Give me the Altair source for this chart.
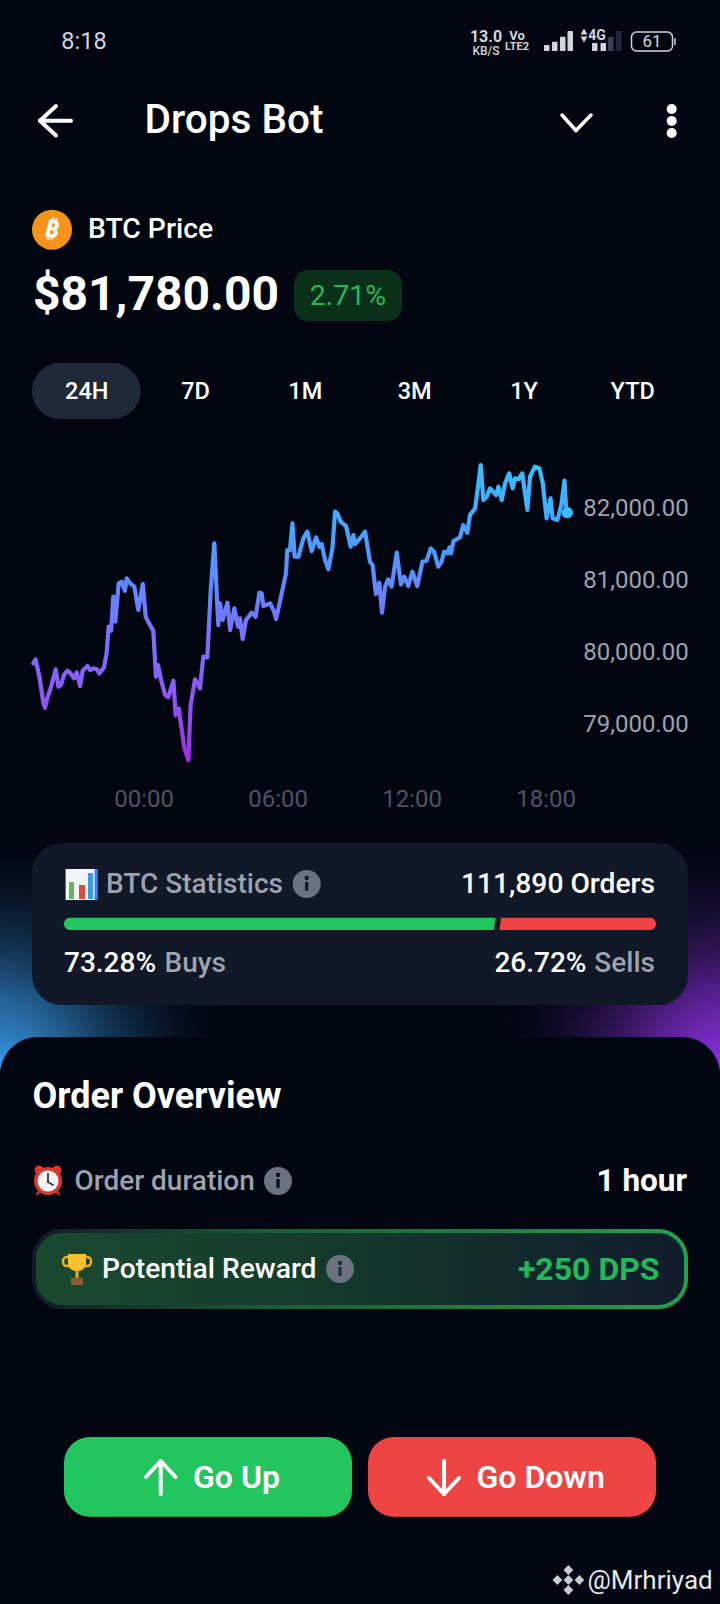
import altair as alt
import pandas as pd

# ---------- chart values ----------
hours = [-4.94,-4.84,-4.67,-4.49,-4.42,-4.30,-4.19,-4.07,-3.94,-3.82,-3.70,-3.57,-3.42,-3.27,-3.12,-3.00,-2.85,-2.73,-2.52,-2.40,-2.25,-2.10,-1.99,-1.78,-1.66,-1.57,-1.46,-1.36,-1.27,-1.12,-0.99,-0.84,-0.76,-0.61,-0.42,-0.24,-0.04,0.09,0.24,0.43,0.55,0.64,0.78,0.96,1.10,1.33,1.43,1.57,1.81,2.00,2.10,2.30,2.52,2.67,2.85,3.00,3.16,3.34,3.42,3.54,3.75,3.87,4.06,4.22,4.31,4.43,4.58,4.84,5.01,5.18,5.28,5.36,5.66,5.81,5.93,6.18,6.37,6.43,6.55,6.66,6.76,6.93,7.15,7.33,7.52,7.72,7.87,7.97,8.12,8.27,8.45,8.57,8.67,8.82,9.06,9.27,9.39,9.46,9.69,9.91,10.13,10.25,10.40,10.55,10.67,10.81,10.95,11.10,11.33,11.52,11.67,11.85,12.03,12.25,12.48,12.67,12.85,13.00,13.19,13.34,13.45,13.60,13.69,13.76,13.87,14.16,14.31,14.49,14.61,14.84,14.99,15.09,15.21,15.36,15.51,15.78,15.88,16.03,16.18,16.37,16.52,16.63,16.78,16.95,17.18,17.30,17.52,17.72,17.87,18.04,18.22,18.31,18.52,18.70,18.84,18.92,18.97]
prices = [79838,79893,79653,79282,79222,79375,79468,79606,79755,79514,79537,79676,79736,79699,79630,79713,79523,79736,79801,79745,79768,79755,79699,79782,79977,80347,80292,80764,80417,80949,80972,80847,81019,80949,80903,80579,80940,80486,80394,80292,79653,79815,79606,79398,79366,79597,79120,79213,78680,78495,79259,79616,79491,79931,79921,80857,81505,80370,80671,80440,80681,80301,80602,80347,80463,80176,80440,80542,80486,80819,80810,80634,80671,80579,80454,80810,81088,81412,81412,81782,81320,81320,81574,81667,81398,81588,81458,81495,81273,81144,81435,81945,81921,81806,81745,81458,81620,81495,81574,81667,81250,81204,80801,80958,80542,80903,81005,80903,81375,80935,81042,80912,81111,80912,81250,81264,81435,81389,81181,81250,81389,81366,81449,81366,81537,81588,81759,81653,81898,81991,82338,82593,82107,82153,82269,82176,82292,82107,82338,82477,82269,82407,82394,82477,81968,82431,82570,82546,82338,81852,82130,81852,81829,82037,82375,81968,81931]
x_ticks = [0, 6, 12, 18]
y_ticks = [79000, 80000, 81000, 82000]
tab_labels = ["24H", "7D", "1M", "3M", "1Y", "YTD"]
buys_pct = 73.28
sells_pct = 26.72
orders = "111,890 Orders"
price_now = "$81,780.00"
change_pct = "2.71%"

# ---------- style ----------
BG = "#020611"
CARD = "#111827"
GREEN = "#22C55E"
RED = "#EF4444"
GREY = "#9CA3AF"
ICON = "#6B7280"
FONT = "Roboto"
base = alt.Chart(pd.DataFrame({"_": [0]}))


def rect(x0, y0, x1, y1, fill, r=0, **kw):
    return base.mark_rect(fill=fill, cornerRadius=r, **kw).encode(
        x=alt.value(x0), x2=alt.value(x1), y=alt.value(y0), y2=alt.value(y1))


def text(x, y, s, size, color="#FFFFFF", align="left", weight=500, font=FONT, **kw):
    return base.mark_text(text=s, fontSize=size, color=color, align=align, baseline="middle",
                          fontWeight=weight, font=font, **kw).encode(x=alt.value(x), y=alt.value(y + 1.8))


def seg(x0, y0, x1, y1, color="#FFFFFF", w=4):
    return base.mark_rule(color=color, strokeWidth=w, strokeCap="round").encode(
        x=alt.value(x0), x2=alt.value(x1), y=alt.value(y0), y2=alt.value(y1))


def dot(x, y, r, fill):
    return base.mark_circle(size=4 * r * r, color=fill, opacity=1).encode(x=alt.value(x), y=alt.value(y))


def sym(x, y, shape, size, fill):
    return base.mark_point(shape=shape, size=size, fill=fill, stroke=fill, filled=True, opacity=1).encode(
        x=alt.value(x), y=alt.value(y))


def info(x, y, bg):
    return [dot(x, y, 14, ICON), dot(x, y - 6, 2.2, bg), rect(x - 1.6, y - 2, x + 1.6, y + 7, bg, 1)]


def grad(stops, x2=1, y2=0):
    return alt.LinearGradient(gradient="linear", x1=0, y1=0, x2=x2, y2=y2,
                              stops=[alt.GradientStop(color=c, offset=o) for o, c in stops])


def glow(center_x, color):
    return alt.RadialGradient(gradient="radial", x1=center_x, y1=1, x2=center_x, y2=1, r1=0, r2=1,
                              stops=[alt.GradientStop(color=color, offset=0),
                                     alt.GradientStop(color=color + "99", offset=0.3),
                                     alt.GradientStop(color=BG + "00", offset=1)])


L = []
# glows behind the sheet
L.append(rect(0, 825, 235, 1070, glow(0, "#3A9BE8")))
L.append(rect(490, 825, 720, 1070, glow(1, "#9333EA")))
L.append(base.mark_rect(fill=BG, cornerRadiusTopLeft=38, cornerRadiusTopRight=38).encode(
    x=alt.value(0), x2=alt.value(720), y=alt.value(1037), y2=alt.value(1604)))

# status bar
L += [text(84, 40, "8:18", 23.5, "#D1D5DB", "center", 400),
      text(486, 35, "13.0", 16, "#D1D5DB", "center", 700),
      text(486, 49, "KB/S", 12, "#D1D5DB", "center", 500),
      text(517, 34, "Vo", 13, "#D1D5DB", "center", 700),
      text(517, 45, "LTE2", 11, "#D1D5DB", "center", 700)]
for x0, top, c in [(544, 45, "#D1D5DB"), (552, 41.7, "#D1D5DB"), (560, 36.7, "#D1D5DB"), (567.5, 31, "#D1D5DB"),
                   (592, 43, "#D1D5DB"), (600.5, 43, "#D1D5DB"), (608, 37, "#374151"), (616, 31, "#1F2937")]:
    L.append(rect(x0, top, x0 + 5.5, 51, c, 1))
L += [sym(584, 32, "triangle-up", 12, "#D1D5DB"), sym(584, 39, "triangle-down", 12, "#D1D5DB"),
      text(597, 34, "4G", 14, "#D1D5DB", "center", 700),
      rect(631.5, 32, 672.5, 51, "#020611", 5, stroke="#D1D5DB", strokeWidth=1.5),
      rect(674, 38, 676, 45, "#9CA3AF", 1),
      text(652, 40.5, "61", 17, "#D1D5DB", "center", 400)]

# nav bar
L += [seg(40, 120.7, 71, 120.7), seg(40, 120.7, 56, 106), seg(40, 120.7, 56, 135.5),
      text(144.5, 119, "Drops Bot", 40.5),
      seg(562, 115, 576, 130.5, w=3.5), seg(576, 130.5, 591, 115, w=3.5),
      dot(671.7, 109, 5, "#FFFFFF"), dot(671.7, 121, 5, "#FFFFFF"), dot(671.7, 133, 5, "#FFFFFF")]

# price header
L += [dot(52, 229.7, 20, "#F7931A"),
      text(52, 228, "₿", 25, "#FFFFFF", "center", 700, "Noto Sans", angle=14),
      text(88, 228, "BTC Price", 28.3),
      text(33, 294, price_now, 48, weight=700),
      rect(294, 270, 402, 321, "#0B3019", 14),
      text(348, 294, change_pct, 28.5, "#25B95D", "center", 400)]

# range tabs
L.append(rect(32, 363, 140.5, 419, "#1F2937", 28))
for cx, lab in zip([86.8, 195.6, 305.3, 414.6, 524, 632.7], tab_labels):
    L.append(text(cx, 390, lab, 23.5, align="center", weight=500))

# statistics card
bar_l, bar_r = 64, 656
bar_mid = bar_l + (bar_r - bar_l) * buys_pct / (buys_pct + sells_pct)
L.append(rect(32, 843, 688, 1005, CARD, 30))
L += [rect(65.6, 869, 97.3, 900, "#F3F4F6"), rect(94.5, 869, 97.3, 900, "#3B82F6"),
      rect(69, 882, 74, 899, "#6BB35A"), rect(79, 885, 85, 899, "#E0483A"), rect(88, 873, 93, 899, "#3B9BE0")]
L += [text(106, 883, "BTC Statistics", 28, GREY)] + info(306.7, 884, CARD)
L.append(text(655, 883, orders, 28.2, align="right"))
L.append(base.mark_rect(fill=GREEN, cornerRadiusTopLeft=6, cornerRadiusBottomLeft=6).encode(
    x=alt.value(bar_l), x2=alt.value(bar_mid), y=alt.value(917.7), y2=alt.value(930)))
L.append(base.mark_rect(fill=RED, cornerRadiusTopRight=6, cornerRadiusBottomRight=6).encode(
    x=alt.value(bar_mid), x2=alt.value(bar_r), y=alt.value(917.7), y2=alt.value(930)))
L.append(base.mark_rule(color=CARD, strokeWidth=5.5).encode(
    x=alt.value(bar_mid + 0.6), x2=alt.value(bar_mid - 1.2), y=alt.value(917.7), y2=alt.value(930)))
L += [text(64, 962, f"{buys_pct:.2f}%", 28), text(164.5, 962, "Buys", 28, GREY),
      text(586.5, 962, f"{sells_pct:.2f}%", 28, align="right"), text(655, 962, "Sells", 28, GREY, "right")]

# order overview
L += [text(32.5, 1095, "Order Overview", 36, weight=700)]
L += [seg(37, 1194, 40, 1191, "#B0362B", 2.5), seg(59, 1194, 56, 1191, "#B0362B", 2.5),
      dot(39, 1170, 4.5, "#D93A2B"), dot(57, 1170, 4.5, "#D93A2B"),
      dot(48, 1181, 14, "#D93A2B"), dot(48, 1181, 10.5, "#F5F5F5"),
      seg(48, 1174, 48, 1182, "#333333", 1.8), seg(48, 1182, 53, 1185, "#333333", 1.8)]
L += [text(74.5, 1180, "Order duration", 28, GREY)] + info(278, 1181, BG)
L.append(text(687, 1180, "1 hour", 31.5, align="right", weight=700))

# reward panel
L.append(rect(32, 1229, 688, 1309, grad([(0, "#111B2A"), (0.35, "#1B5A35"), (1, "#21A24F")]), 30))
L.append(rect(36, 1233, 684, 1305, grad([(0, "#1A4A30"), (0.45, "#153A2C"), (1, "#111C2B")]), 26))
L += [base.mark_rect(fill=None, stroke="#F5B21B", strokeWidth=2.5, cornerRadius=4).encode(
          x=alt.value(63), x2=alt.value(91), y=alt.value(1257), y2=alt.value(1266)),
      base.mark_rect(fill="#FBC02D", cornerRadiusBottomLeft=8, cornerRadiusBottomRight=8).encode(
          x=alt.value(68), x2=alt.value(86), y=alt.value(1254), y2=alt.value(1271)),
      rect(75.5, 1270, 78.5, 1278, "#F0A818"), rect(71, 1278, 83, 1285, "#8B5E34", 1)]
L += [text(102, 1268, "Potential Reward", 28.2)] + info(340, 1269, "#16352B")
L.append(text(659.5, 1268, "+250 DPS", 32, "#22B95C", "right", 700))

# buttons
L += [rect(64, 1437, 352, 1516.7, GREEN, 26), rect(368, 1437, 656, 1516.7, RED, 26)]
L += [seg(160.7, 1461, 160.7, 1494), seg(160.7, 1461, 146, 1477), seg(160.7, 1461, 175.5, 1477),
      text(193, 1476.5, "Go Up", 32, weight=600),
      seg(444, 1461, 444, 1494), seg(444, 1494, 429, 1478), seg(444, 1494, 459, 1478),
      text(476.5, 1476.5, "Go Down", 32, weight=600)]

# watermark
for dx, dy in [(0, -10), (-11, 0), (11, 0), (0, 10), (0, 0)]:
    L.append(sym(568.4 + dx, 1580 + dy, "diamond", 48, "#C9CCD1"))
L.append(text(587.5, 1579, "@Mrhriyad", 26, "#E5E7EB", weight=400))

# ---------- price chart, through real scales and axes ----------
df = pd.DataFrame({"hour": hours, "price": prices})
x_enc = alt.X("hour:Q", scale=alt.Scale(domain=[0, 18], range=[143.7, 545.7], nice=False, zero=False),
              axis=alt.Axis(values=x_ticks, orient="bottom", offset=-804.5, title=None, grid=False, domain=False,
                            ticks=False, labelPadding=0, labelBaseline="middle", labelFont=FONT, labelFontSize=24,
                            labelColor="#4B5563", labelFontWeight=400, labelOverlap=False, labelFlush=False,
                            labelBound=False, labelExpr="(datum.value < 10 ? '0' : '') + datum.value + ':00'"))
y_enc = alt.Y("price:Q", scale=alt.Scale(domain=[79000, 82000], range=[723.7, 507.7], nice=False, zero=False),
              axis=alt.Axis(values=y_ticks, orient="right", offset=-137.3, title=None, grid=False, domain=False,
                            ticks=False, labelPadding=0, labelAlign="left", labelFont=FONT, labelFontSize=24,
                            labelColor=GREY, labelFontWeight=400, labelOverlap=False, labelFlush=False,
                            labelBound=False, labelOffset=1, format=",.2f"))
line_grad = alt.LinearGradient(gradient="linear", x1=0, y1=1, x2=0, y2=0, stops=[
    alt.GradientStop(color="#A32BE8", offset=0), alt.GradientStop(color="#8B5CF6", offset=0.25),
    alt.GradientStop(color="#6E7BFF", offset=0.5), alt.GradientStop(color="#4D9BFF", offset=0.72),
    alt.GradientStop(color="#38C0FF", offset=1)])
L.append(alt.Chart(df).mark_line(color=line_grad, strokeWidth=4.2, strokeJoin="round", strokeCap="round").encode(
    x=x_enc, y=y_enc, order="hour:Q"))
L.append(alt.Chart(df.tail(1)).mark_circle(size=130, color="#38BDF8", opacity=1).encode(x=x_enc, y=y_enc))

chart = alt.layer(*L).properties(
    width=720, height=1604, padding=0, background=BG,
    autosize=alt.AutoSizeParams(type="none"),
).configure_view(stroke=None)

chart.save("out.html", embed_options={
    "renderer": "svg", "actions": False,
    "defaultStyle": "html,body{margin:0;padding:0;background:#020611;overflow:hidden}svg{display:block}",
})
